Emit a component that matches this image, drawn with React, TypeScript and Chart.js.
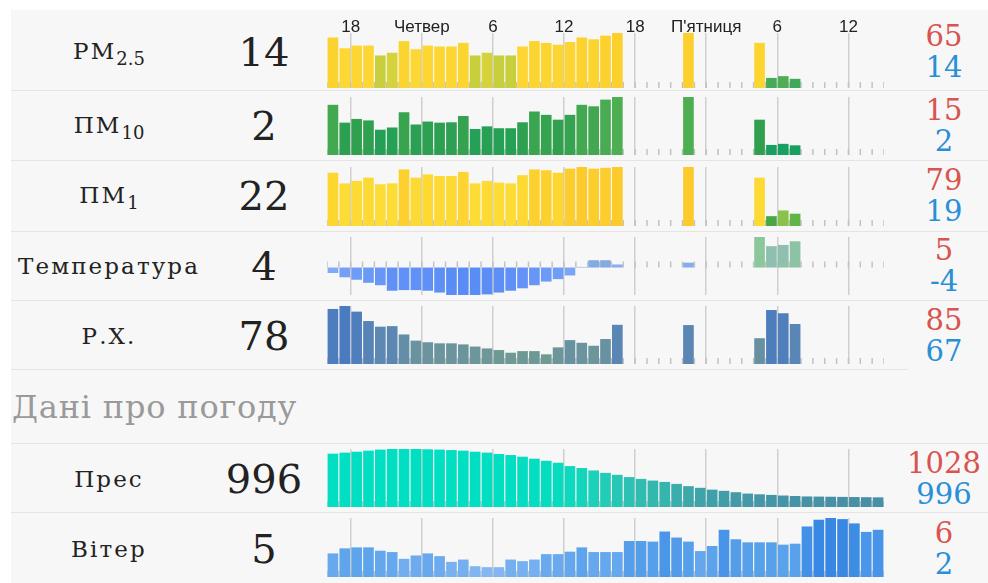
import React, { useEffect, useRef } from "react";
import { Chart, registerables } from "chart.js";

Chart.register(...registerables);

// ---------------- data ----------------
const HOUR_COUNT = 47; // hourly slots, Wed 16:00 .. Fri 14:00
const tickHours = [2, 8, 14, 20, 26, 32, 38, 44];
const tickLabels = ["18", "Четвер", "6", "12", "18", "П'ятниця", "6", "12"];

const _ = null;
const pm25 = [60, 48, 51, 51, 40, 43, 56, 47, 51, 50, 50, 54, 40, 43, 40, 40, 50, 56, 54, 52, 55, 60, 58, 62, 65,
  _, _, _, _, _, 65, _, _, _, _, _, 54, 15, 17, 14, _, _, _, _, _, _, _];
const pm10 = [12.9, 8.1, 9.1, 8.7, 6.2, 6.8, 10.9, 7.6, 8.4, 8.1, 8.2, 9.9, 6.4, 7.1, 6.6, 6.6, 8.2, 11.1, 10.2, 8.9, 10.2, 12.9, 12.5, 14.3, 15,
  _, _, _, _, _, 15, _, _, _, _, _, 8.9, 2.1, 2.4, 2, _, _, _, _, _, _, _];
const pm1 = [72, 59, 62, 66, 58, 59, 76, 66, 70, 68, 68, 73, 59, 62, 60, 59, 69, 76, 75, 72, 77, 79, 77, 78, 79,
  _, _, _, _, _, 79, _, _, _, _, _, 66, 19, 26, 22, _, _, _, _, _, _, _];
const temperature = [-0.9, -1.6, -2.0, -2.5, -2.9, -3.8, -3.7, -3.7, -3.8, -4.1, -4.5, -4.5, -4.5, -4.4, -4.1, -3.8, -3.4, -2.9, -2.3, -1.9, -1.3, 0.1, 1.2, 1.2, 0.5,
  _, _, _, _, _, 0.8, _, _, _, _, _, 5.0, 3.5, 3.7, 4.3, _, _, _, _, _, _, _];
const humidity = [83.9, 85, 82.9, 79.4, 77.3, 77.5, 74.4, 72.1, 71.5, 71.1, 71.1, 70.7, 69.9, 69.2, 68.6, 67.6, 68.2, 68.2, 67, 69.6, 72.3, 71.3, 70.2, 72.7, 78,
  _, _, _, _, _, 77.9, _, _, _, _, _, 73, 83.5, 82.3, 78.3, _, _, _, _, _, _, _];
const pressure = [1024.9, 1025.6, 1026.2, 1026.9, 1027.6, 1028, 1028, 1028, 1027.8, 1027.6, 1027.3, 1026.9, 1026.2, 1025.6, 1024.7, 1024.0,
  1022.9, 1021.6, 1020.2, 1018.9, 1016.7, 1015.4, 1013.8, 1012.2, 1010.9, 1009.4, 1008.2, 1007.1, 1006.2, 1004.9, 1003.4, 1002.3,
  1001.1, 1000.3, 999.4, 998.5, 998.0, 997.6, 997.2, 996.9, 996.6, 996.5, 996.4, 996.3, 996.2, 996.1, 996.0];
const wind = [3.12, 3.53, 3.61, 3.61, 3.34, 3.23, 2.68, 2.95, 3.12, 2.90, 2.43, 2.62, 2.08, 2.0, 2.0, 2.62, 2.49, 2.62, 3.06, 3.06,
  3.26, 3.61, 3.23, 3.23, 3.23, 4.13, 4.13, 4.08, 4.90, 4.41, 4.08, 3.31, 3.72, 5.04, 4.27, 4.02, 4.02, 4.02, 3.83, 3.91,
  5.31, 5.86, 6.0, 5.91, 5.56, 4.87, 5.04];

// ---------------- styles ----------------
type Stop = [number, string];
const pm25Stops: Stop[] = [[14, "#3fa957"], [30, "#93c43f"], [43, "#d6d23b"], [46, "#fdd835"], [65, "#fcd02c"]];
const pm10Stops: Stop[] = [[2, "#17a05f"], [6, "#23a057"], [9, "#30a04f"], [15, "#4dae52"]];
const pm1Stops: Stop[] = [[19, "#45a845"], [26, "#8bc34a"], [40, "#e0d53a"], [55, "#fddd36"], [70, "#fdd932"], [79, "#fccb2b"]];
const tempStops: Stop[] = [[-4.5, "#5a8cf5"], [-2, "#6e9cf7"], [-0.5, "#86aff8"], [0.5, "#89adf0"], [1.2, "#84aae2"], [3.5, "#8fbfb0"], [5, "#8cc79c"]];
const rhStops: Stop[] = [[67, "#6f9a92"], [72, "#6a93a0"], [78, "#5a86b4"], [85, "#4a7bc0"]];
const presStops: Stop[] = [[996, "#4790a7"], [1003, "#3ea6aa"], [1008, "#31bcb0"], [1013, "#1fcfb8"], [1018, "#05dcc0"], [1028, "#00dfc2"]];
const windStops: Stop[] = [[2, "#83b6f2"], [3, "#6aaaee"], [4, "#57a0ea"], [5, "#4895e8"], [6, "#3787e3"]];

function hexToRgb(h: string) {
  const n = parseInt(h.slice(1), 16);
  return [(n >> 16) & 255, (n >> 8) & 255, n & 255];
}
function colorFor(v: number, stops: Stop[]) {
  if (v <= stops[0][0]) return stops[0][1];
  for (let i = 1; i < stops.length; i++) {
    if (v <= stops[i][0]) {
      const [a, ca] = stops[i - 1];
      const [b, cb] = stops[i];
      const t = (v - a) / (b - a);
      const A = hexToRgb(ca), B = hexToRgb(cb);
      const c = A.map((x, k) => Math.round(x + (B[k] - x) * t));
      return `rgb(${c[0]},${c[1]},${c[2]})`;
    }
  }
  return stops[stops.length - 1][1];
}

// short hourly tick marks standing on the baseline
const minorTicks = {
  id: "minorTicks",
  beforeDatasetsDraw(chart: any, _args: any, opts: any) {
    const { ctx, scales } = chart;
    const x = scales.x, y = scales.y;
    const y0 = y.getPixelForValue(opts.baseValue);
    ctx.save();
    ctx.strokeStyle = "#c2c2c2";
    ctx.lineWidth = 1.5;
    for (let h = 0; h <= HOUR_COUNT; h++) {
      const px = x.getPixelForValue(h);
      ctx.beginPath();
      ctx.moveTo(px, y0);
      ctx.lineTo(px, y0 - 6);
      ctx.stroke();
    }
    ctx.restore();
  },
};

// time labels above the first sparkline, placed on the x scale's tick positions
const headerLabels = {
  id: "headerLabels",
  afterDraw(chart: any, _args: any, opts: any) {
    if (!opts.show) return;
    const { ctx, scales, chartArea } = chart;
    const x = scales.x;
    ctx.save();
    ctx.fillStyle = "#222";
    ctx.font = "17px 'Liberation Sans', Arial, sans-serif";
    ctx.textAlign = "center";
    ctx.textBaseline = "middle";
    x.ticks.forEach((t: any) => {
      const i = tickHours.indexOf(t.value);
      if (i >= 0) ctx.fillText(tickLabels[i], x.getPixelForValue(t.value), chartArea.top - 6);
    });
    ctx.restore();
  },
};

const CHART_LEFT = 327;
const CHART_WIDTH = 557;
const HEADER_SPACE = 20;

type SparkProps = { values: (number | null)[]; stops: Stop[]; top: number; height: number; header?: boolean; signed?: boolean };

function Spark({ values, stops, top, height, header, signed }: SparkProps) {
  const ref = useRef<HTMLCanvasElement | null>(null);
  const canvasTop = header ? top - HEADER_SPACE : top;
  const canvasHeight = header ? height + HEADER_SPACE : height;
  useEffect(() => {
    const nums = values.filter((v) => v !== null) as number[];
    const dMin = Math.min(...nums), dMax = Math.max(...nums);
    const yMin = signed ? dMin : dMin - 0.2 * (dMax - dMin);
    const base = signed ? 0 : yMin;
    const points: { x: number; y: number }[] = [];
    const colors: string[] = [];
    values.forEach((v, h) => {
      if (v === null) return;
      points.push({ x: h + 0.5, y: v });
      colors.push(colorFor(v, stops));
    });
    const chart = new Chart(ref.current as HTMLCanvasElement, {
      type: "bar",
      data: {
        datasets: [{ data: points as any, backgroundColor: colors, borderWidth: 0, barPercentage: 0.9, categoryPercentage: 1, base } as any],
      },
      options: {
        animation: false,
        responsive: false,
        maintainAspectRatio: false,
        layout: { padding: { top: header ? HEADER_SPACE : 0, left: 0, right: 0, bottom: 0 } },
        plugins: {
          legend: { display: false },
          tooltip: { enabled: false },
          minorTicks: { baseValue: base },
          headerLabels: { show: !!header },
        } as any,
        scales: {
          x: {
            type: "linear",
            min: 0,
            max: HOUR_COUNT,
            offset: false,
            afterBuildTicks: (axis: any) => {
              axis.ticks = tickHours.map((v) => ({ value: v }));
            },
            grid: { color: "#cfcfcf", lineWidth: 1.5, drawTicks: false, offset: false },
            border: { display: false },
            ticks: { display: false },
          } as any,
          y: { display: false, min: yMin, max: dMax },
        },
      },
      plugins: [minorTicks as any, headerLabels as any],
    });
    return () => chart.destroy();
  }, []);
  return (
    <canvas
      ref={ref}
      width={CHART_WIDTH}
      height={canvasHeight}
      style={{ position: "absolute", left: CHART_LEFT, top: canvasTop, width: CHART_WIDTH, height: canvasHeight }}
    />
  );
}

const serif = "'DejaVu Serif', serif";

function Row({ label, values, stops, top, height, center, header, signed }: any) {
  const nums = values.filter((v: any) => v !== null) as number[];
  const current = nums[nums.length - 1];
  const mx = Math.round(Math.max(...nums));
  const mn = Math.round(Math.min(...nums));
  return (
    <>
      <div style={{ position: "absolute", left: 109, top: center, transform: "translate(-50%,-50%)", fontFamily: serif, fontSize: 23, lineHeight: "27px", color: "#222", whiteSpace: "nowrap", letterSpacing: 2.1 }}>
        {label}
      </div>
      <div style={{ position: "absolute", left: 264, top: center, transform: "translate(-50%,-50%)", fontFamily: serif, fontSize: 40, lineHeight: "44px", color: "#222", whiteSpace: "nowrap" }}>
        {Math.round(current)}
      </div>
      <div style={{ position: "absolute", left: 944, top: center, transform: "translate(-50%,-50%)", fontFamily: serif, fontSize: 29, lineHeight: "31px", textAlign: "center", whiteSpace: "nowrap" }}>
        <div style={{ color: "#d9534f" }}>{mx}</div>
        <div style={{ color: "#2a8fd6" }}>{mn}</div>
      </div>
      <Spark values={values} stops={stops} top={top} height={height} header={header} signed={signed} />
    </>
  );
}

const sub = (t: string) => <span style={{ fontSize: 18, position: "relative", top: 6, letterSpacing: 0 }}>{t}</span>;

function Line({ y, right }: { y: number; right: number }) {
  return <div style={{ position: "absolute", left: 11, top: y, width: right - 11, height: 1, background: "#e4e4e4" }} />;
}

export default function App() {
  return (
    <div style={{ position: "absolute", left: 0, top: 0, width: 988, height: 583, background: "#fff", overflow: "hidden" }}>
      <div style={{ position: "absolute", left: 11, top: 10, width: 977, height: 573, background: "#f7f7f7" }} />
      <Line y={90} right={988} />
      <Line y={160} right={988} />
      <Line y={231} right={988} />
      <Line y={300} right={988} />
      <Line y={369} right={908} />
      <Line y={443} right={988} />
      <Line y={512} right={988} />
      <Row label={<>PM{sub("2.5")}</>} values={pm25} stops={pm25Stops} top={33} height={55} center={52} header />
      <Row label={<>ПМ{sub("10")}</>} values={pm10} stops={pm10Stops} top={97} height={58} center={126} />
      <Row label={<>ПМ{sub("1")}</>} values={pm1} stops={pm1Stops} top={167} height={59} center={195.5} />
      <Row label={"Температура"} values={temperature} stops={tempStops} top={237} height={58} center={266} signed />
      <Row label={"Р.Х."} values={humidity} stops={rhStops} top={306} height={58} center={336} />
      <div style={{ position: "absolute", left: 12, top: 407, transform: "translateY(-50%)", fontFamily: serif, fontSize: 32, lineHeight: "38px", color: "#9a9a9a", whiteSpace: "nowrap", letterSpacing: 0.8 }}>
        Дані про погоду
      </div>
      <Row label={"Прес"} values={pressure} stops={presStops} top={449} height={58} center={478.5} />
      <Row label={"Вітер"} values={wind} stops={windStops} top={518} height={59} center={548.5} />
    </div>
  );
}
